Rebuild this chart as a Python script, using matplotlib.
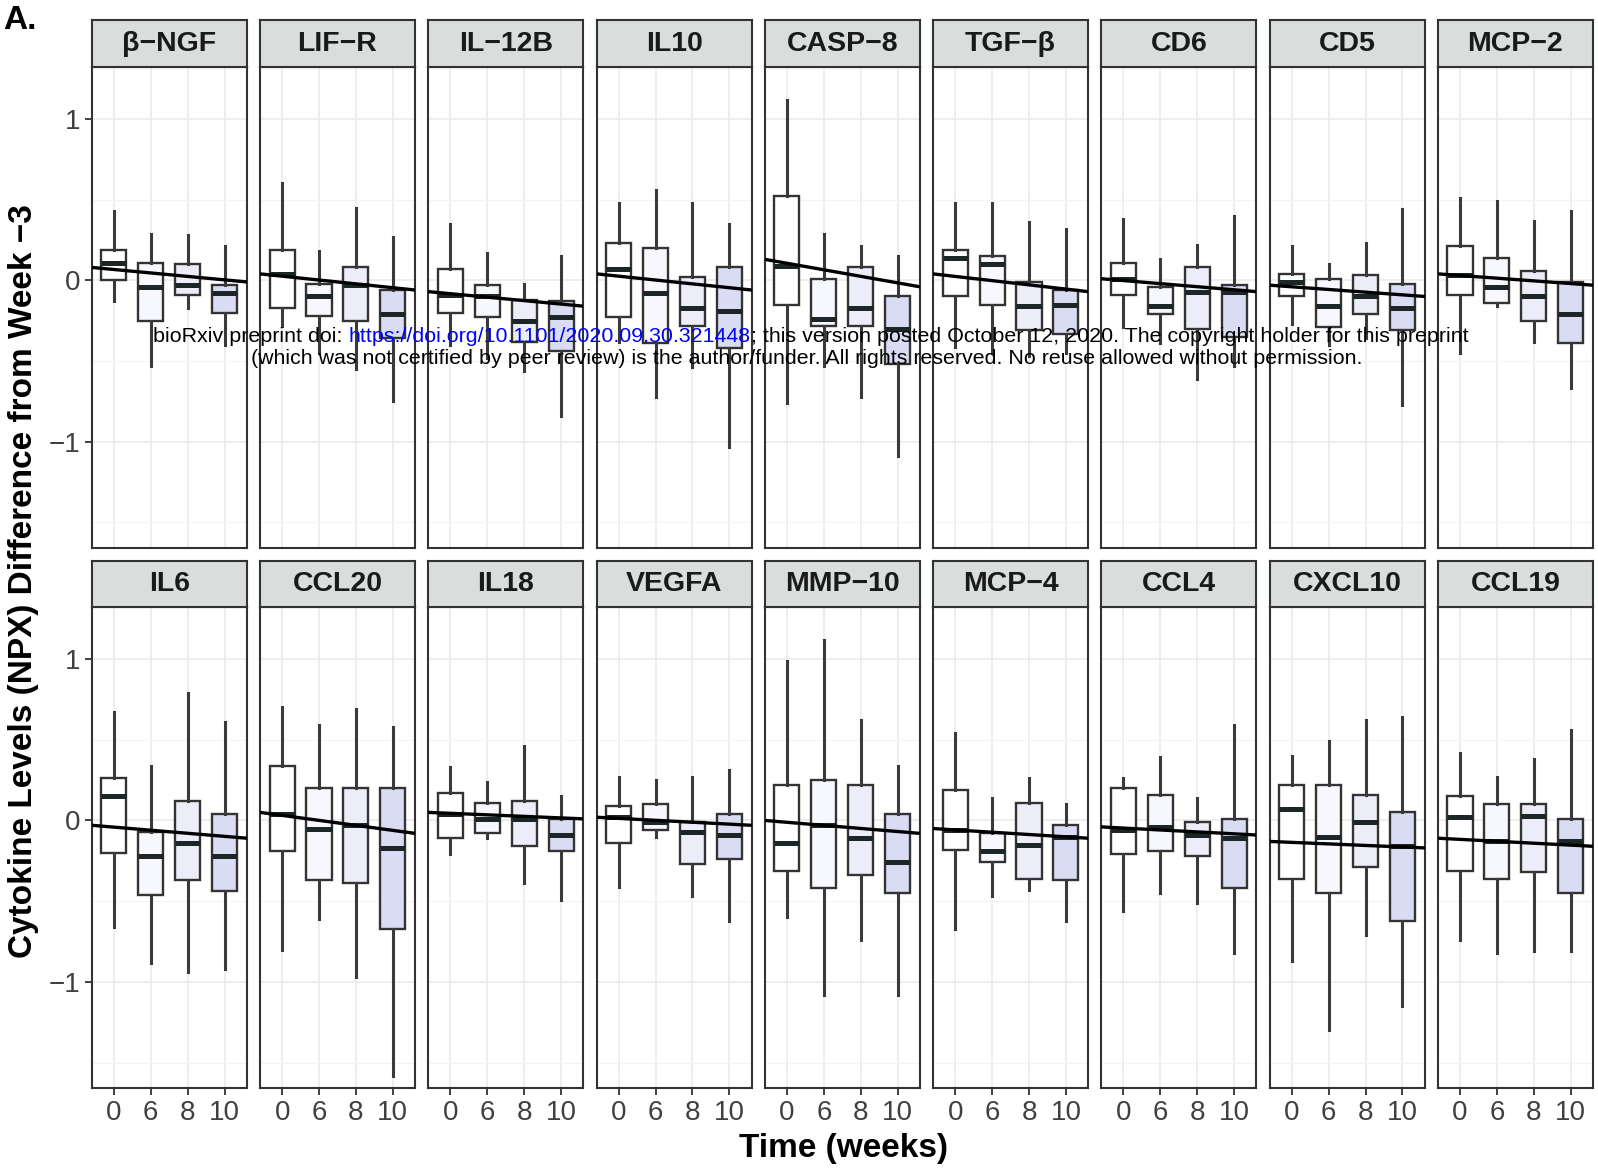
import matplotlib
matplotlib.use('Agg')
import matplotlib.pyplot as plt

plt.rcParams['font.family'] = ['Liberation Sans', 'DejaVu Sans']

# facet names, row by row
cytokines = ['β−NGF', 'LIF−R', 'IL−12B', 'IL10', 'CASP−8', 'TGF−β', 'CD6', 'CD5', 'MCP−2',
             'IL6', 'CCL20', 'IL18', 'VEGFA', 'MMP−10', 'MCP−4', 'CCL4', 'CXCL10', 'CCL19']
weeks = ['0', '6', '8', '10']

# box stats per cytokine, one value per week (0, 6, 8, 10)
whisk_hi = [
    [0.43, 0.29, 0.28, 0.21], [0.60, 0.18, 0.45, 0.27], [0.35, 0.17, -0.02, 0.15],
    [0.48, 0.56, 0.48, 0.35], [1.12, 0.29, 0.21, 0.15], [0.48, 0.48, 0.36, 0.32],
    [0.38, 0.13, 0.22, 0.40], [0.21, 0.10, 0.23, 0.44], [0.51, 0.49, 0.37, 0.43],
    [0.67, 0.34, 0.79, 0.61], [0.70, 0.59, 0.69, 0.58], [0.33, 0.24, 0.46, 0.15],
    [0.27, 0.25, 0.27, 0.31], [0.99, 1.12, 0.62, 0.34], [0.54, 0.14, 0.26, 0.10],
    [0.26, 0.39, 0.14, 0.59], [0.40, 0.49, 0.62, 0.64], [0.42, 0.27, 0.38, 0.56]]
q3 = [
    [0.19, 0.11, 0.10, -0.03], [0.19, -0.02, 0.08, -0.06], [0.07, -0.03, -0.12, -0.13],
    [0.23, 0.20, 0.02, 0.08], [0.52, 0.01, 0.08, -0.10], [0.19, 0.15, -0.01, -0.06],
    [0.11, -0.04, 0.08, -0.03], [0.04, 0.01, 0.03, -0.02], [0.21, 0.14, 0.06, -0.01],
    [0.26, -0.07, 0.12, 0.04], [0.34, 0.20, 0.20, 0.20], [0.17, 0.11, 0.12, 0.01],
    [0.09, 0.10, -0.01, 0.04], [0.22, 0.25, 0.22, 0.04], [0.19, -0.08, 0.11, -0.03],
    [0.20, 0.16, -0.01, 0.01], [0.22, 0.22, 0.16, 0.05], [0.15, 0.10, 0.10, 0.01]]
med = [
    [0.11, -0.04, -0.03, -0.08], [0.04, -0.10, -0.03, -0.21], [-0.09, -0.10, -0.25, -0.23],
    [0.07, -0.08, -0.17, -0.19], [0.09, -0.24, -0.17, -0.30], [0.14, 0.10, -0.16, -0.15],
    [0.01, -0.16, -0.07, -0.07], [-0.01, -0.16, -0.10, -0.17], [0.03, -0.04, -0.10, -0.21],
    [0.15, -0.22, -0.14, -0.22], [0.04, -0.05, -0.03, -0.17], [0.04, 0.01, 0.01, -0.09],
    [0.02, -0.01, -0.07, -0.09], [-0.14, -0.03, -0.11, -0.26], [-0.06, -0.19, -0.15, -0.10],
    [-0.06, -0.04, -0.09, -0.11], [0.07, -0.10, -0.01, -0.16], [0.02, -0.13, 0.03, -0.13]]
q1 = [
    [0.00, -0.25, -0.09, -0.20], [-0.17, -0.22, -0.25, -0.36], [-0.20, -0.23, -0.38, -0.44],
    [-0.23, -0.39, -0.28, -0.42], [-0.15, -0.28, -0.28, -0.52], [-0.10, -0.15, -0.31, -0.33],
    [-0.09, -0.21, -0.30, -0.35], [-0.10, -0.29, -0.21, -0.31], [-0.09, -0.14, -0.25, -0.39],
    [-0.20, -0.46, -0.37, -0.44], [-0.19, -0.37, -0.39, -0.67], [-0.11, -0.08, -0.16, -0.19],
    [-0.14, -0.06, -0.27, -0.24], [-0.31, -0.42, -0.34, -0.45], [-0.18, -0.26, -0.36, -0.37],
    [-0.21, -0.19, -0.22, -0.42], [-0.36, -0.45, -0.29, -0.62], [-0.31, -0.36, -0.32, -0.45]]
whisk_lo = [
    [-0.13, -0.53, -0.17, -0.40], [-0.28, -0.45, -0.55, -0.75], [-0.40, -0.48, -0.56, -0.84],
    [-0.38, -0.72, -0.54, -1.03], [-0.76, -0.53, -0.72, -1.09], [-0.41, -0.45, -0.47, -0.45],
    [-0.29, -0.39, -0.61, -0.53], [-0.27, -0.40, -0.36, -0.77], [-0.45, -0.16, -0.38, -0.67],
    [-0.66, -0.88, -0.94, -0.92], [-0.80, -0.61, -0.97, -1.58], [-0.21, -0.11, -0.39, -0.49],
    [-0.41, -0.10, -0.47, -0.62], [-0.60, -1.08, -0.74, -1.08], [-0.67, -0.47, -0.43, -0.62],
    [-0.56, -0.45, -0.51, -0.82], [-0.87, -1.30, -0.71, -1.15], [-0.74, -0.82, -0.81, -0.81]]

# linear fit, value at left and right panel edge
fit_start = [0.08, 0.04, -0.07, 0.04, 0.13, 0.04, 0.01, -0.03, 0.04,
             -0.03, 0.05, 0.05, 0.02, 0.00, -0.05, -0.04, -0.13, -0.11]
fit_end = [-0.01, -0.06, -0.16, -0.06, -0.04, -0.07, -0.07, -0.10, -0.03,
           -0.11, -0.08, 0.01, -0.03, -0.08, -0.11, -0.09, -0.17, -0.16]

fills = ['#FFFFFF', '#F7F7FE', '#EDEDFA', '#DADCF3']

fig = plt.figure(figsize=(15.98, 11.70), dpi=100)

left0, step, pw = 0.0574, 0.1053, 0.0970
# panel bottom, panel height, strip bottom, strip height
rows = [(0.5314, 0.4111, 0.9425, 0.0401), (0.0697, 0.4112, 0.4809, 0.0400)]
pos = [1, 2, 3, 4]

for i, name in enumerate(cytokines):
    r, c = divmod(i, 9)
    pb, ph, sb, sh = rows[r]
    x0 = left0 + c * step
    ax = fig.add_axes([x0, pb, pw, ph])

    stats = []
    for j in range(4):
        stats.append(dict(whislo=whisk_lo[i][j], q1=q1[i][j], med=med[i][j],
                          q3=q3[i][j], whishi=whisk_hi[i][j], fliers=[]))
    bp = ax.bxp(stats, positions=pos, widths=0.68, patch_artist=True,
                showfliers=False, showcaps=False,
                boxprops=dict(edgecolor='#333333', linewidth=1.7),
                whiskerprops=dict(color='#3a3a3a', linewidth=2.2),
                medianprops=dict(color='#1c2626', linewidth=3.6))
    for patch, f in zip(bp['boxes'], fills):
        patch.set_facecolor(f)

    ax.plot([0.4, 4.6], [fit_start[i], fit_end[i]], color='black', lw=2.4, zorder=6)

    ax.set_xlim(0.4, 4.6)
    ax.set_ylim(-1.66, 1.32)
    ax.set_xticks(pos)
    ax.set_yticks([-1, 0, 1])
    ax.set_yticks([-1.5, -0.5, 0.5], minor=True)
    ax.set_axisbelow(True)
    ax.grid(True, which='major', color='#EBEBEB', lw=1.2)
    ax.grid(True, which='minor', axis='y', color='#F4F4F4', lw=0.8)
    ax.tick_params(which='minor', length=0)
    ax.tick_params(which='major', length=5, width=1.3, color='#333333',
                   labelsize=20, labelcolor='#404040', pad=3)
    for s in ax.spines.values():
        s.set_color('#333333')
        s.set_linewidth(1.5)

    if r == 1:
        ax.set_xticklabels(weeks)
    else:
        ax.tick_params(axis='x', length=0, labelbottom=False)
    if c == 0:
        ax.set_yticklabels(['−1', '0', '1'])
    else:
        ax.tick_params(axis='y', length=0, labelleft=False)

    sax = fig.add_axes([x0, sb, pw, sh])
    sax.set_facecolor('#D9DEDC')
    sax.set_xticks([])
    sax.set_yticks([])
    for s in sax.spines.values():
        s.set_color('#333333')
        s.set_linewidth(1.5)
    sax.text(0.5, 0.5, name, ha='center', va='center', fontsize=20.5,
             fontweight='bold', color='#1a1a1a', transform=sax.transAxes)

fig.text(0.0147, 0.503, 'Cytokine Levels (NPX) Difference from Week −3', rotation=90,
         ha='center', va='center', fontsize=24, fontweight='bold')
fig.text(0.528, 0.0184, 'Time (weeks)', ha='center', va='center', fontsize=24,
         fontweight='bold')
fig.text(0.002, 0.9826, 'A.', ha='left', va='center', fontsize=24, fontweight='bold')

# preprint notice overlaid on the figure
line1 = ['bioRxiv preprint doi: ', 'https://doi.org/10.1101/2020.09.30.321448',
         '; this version posted October 12, 2020. The copyright holder for this preprint']
cols1 = ['black', 'blue', 'black']
line2 = '(which was not certified by peer review) is the author/funder. All rights reserved. No reuse allowed without permission.'

renderer = fig.canvas.get_renderer()
parts = [fig.text(0, 0.7125, s, color=col, fontsize=15.4, va='center', ha='left', zorder=20)
         for s, col in zip(line1, cols1)]
widths = [p.get_window_extent(renderer).width / fig.bbox.width for p in parts]
x = 0.5075 - sum(widths) / 2
for p, w in zip(parts, widths):
    p.set_x(x)
    x += w
fig.text(0.505, 0.6935, line2, color='black', fontsize=15.4, va='center', ha='center', zorder=20)

fig.savefig('out.png', dpi=100)
